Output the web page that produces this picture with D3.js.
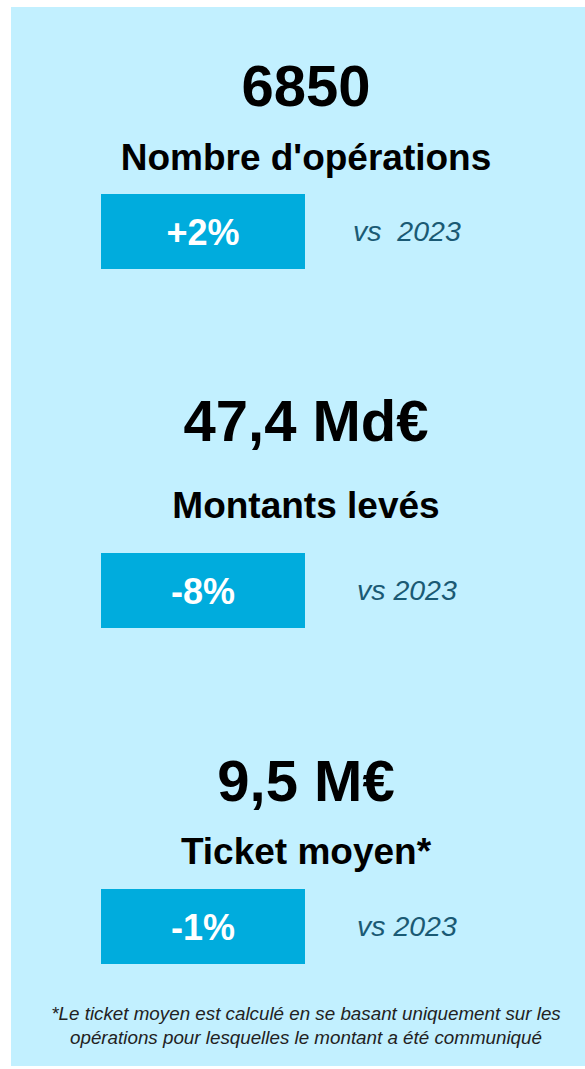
<!DOCTYPE html>
<html>
<head>
<meta charset="utf-8">
<script src="https://cdn.jsdelivr.net/npm/d3@7"></script>
<style>
  html, body { margin: 0; padding: 0; background: #ffffff; }
  svg { display: block; }
</style>
</head>
<body>
<div id="chart"></div>
<script>
//////////////////////////////////////////////////////////////////////////////
// Data

var values      = ["6850", "47,4 Md\u20ac", "9,5 M\u20ac"];
var titles      = ["Nombre d'op\u00e9rations", "Montants lev\u00e9s", "Ticket moyen*"];
var deltas      = ["+2%", "-8%", "-1%"];
var comparisons = ["vs\u00a0 2023", "vs 2023", "vs 2023"];
var footnote    = [
    "*Le ticket moyen est calcul\u00e9 en se basant uniquement sur les",
    "op\u00e9rations pour lesquelles le montant a \u00e9t\u00e9 communiqu\u00e9"
];

//////////////////////////////////////////////////////////////////////////////
// Layout

var width = 585, height = 1069;
var font = "Liberation Sans, Arial, Helvetica, sans-serif";

var idx = d3.range(values.length);

// vertical anchors of each block
var valueY = d3.scaleOrdinal().domain(idx).range([106, 441, 801]);
var titleY = d3.scaleOrdinal().domain(idx).range([170, 518, 864]);
var boxY   = d3.scaleOrdinal().domain(idx).range([194, 553, 889]);

var boxX = 101, boxW = 204, boxH = 75;
var centerX = 306;

var svg = d3.select("#chart")
    .append("svg")
    .attr("width", width)
    .attr("height", height);

svg.append("rect")
    .attr("x", 11)
    .attr("y", 7)
    .attr("width", width - 11)
    .attr("height", 1059)
    .attr("fill", "#c2f0ff");

var blocks = svg.selectAll("g.block")
    .data(idx)
    .enter()
    .append("g")
    .attr("class", "block");

blocks.append("text")
    .attr("x", centerX)
    .attr("y", function(d) { return valueY(d); })
    .attr("text-anchor", "middle")
    .attr("font-family", font)
    .attr("font-weight", "bold")
    .attr("font-size", 58)
    .attr("fill", "#000000")
    .text(function(d) { return values[d]; });

blocks.append("text")
    .attr("x", centerX)
    .attr("y", function(d) { return titleY(d); })
    .attr("text-anchor", "middle")
    .attr("font-family", font)
    .attr("font-weight", "bold")
    .attr("font-size", 37)
    .attr("fill", "#000000")
    .text(function(d) { return titles[d]; });

blocks.append("rect")
    .attr("x", boxX)
    .attr("y", function(d) { return boxY(d); })
    .attr("width", boxW)
    .attr("height", boxH)
    .attr("fill", "#00acdd");

blocks.append("text")
    .attr("x", boxX + boxW / 2)
    .attr("y", function(d) { return boxY(d) + 51; })
    .attr("text-anchor", "middle")
    .attr("font-family", font)
    .attr("font-weight", "bold")
    .attr("font-size", 36)
    .attr("fill", "#ffffff")
    .text(function(d) { return deltas[d]; });

blocks.append("text")
    .attr("x", function(d) { return d === 0 ? 353 : 357; })
    .attr("y", function(d) { return boxY(d) + 47; })
    .attr("font-family", font)
    .attr("font-style", "italic")
    .attr("font-size", 28.5)
    .attr("fill", "#1a5a74")
    .text(function(d) { return comparisons[d]; });

svg.append("g")
    .selectAll("text")
    .data(footnote)
    .enter()
    .append("text")
    .attr("x", centerX)
    .attr("y", function(d, i) { return 1020 + i * 24; })
    .attr("text-anchor", "middle")
    .attr("font-family", font)
    .attr("font-style", "italic")
    .attr("font-size", 18.8)
    .attr("fill", "#222222")
    .text(function(d) { return d; });
</script>
</body>
</html>
